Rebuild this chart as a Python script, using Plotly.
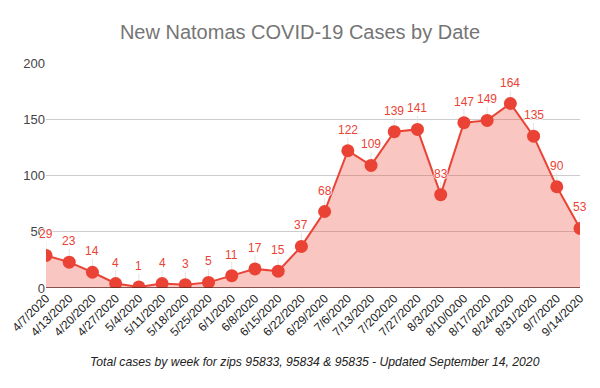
import plotly.graph_objects as go

dates = ["4/7/2020", "4/13/2020", "4/20/2020", "4/27/2020", "5/4/2020", "5/11/2020",
         "5/18/2020", "5/25/2020", "6/1/2020", "6/8/2020", "6/15/2020", "6/22/2020",
         "6/29/2020", "7/6/2020", "7/13/2020", "7/202020", "7/27/2020", "8/3/2020",
         "8/10/0200", "8/17/2020", "8/24/2020", "8/31/2020", "9/7/2020", "9/14/2020"]
cases = [29, 23, 14, 4, 1, 4, 3, 5, 11, 17, 15, 37, 68, 122, 109, 139, 141, 83,
         147, 149, 164, 135, 90, 53]
y_ticks = [0, 50, 100, 150, 200]

xs = list(range(len(dates)))
RED = "#ea4335"
FONT = "Liberation Sans, Arial, sans-serif"
HALO = "1px 0 1px white, -1px 0 1px white, 0 1px 1px white, 0 -1px 1px white"

W, H = 600, 388

fig = go.Figure()
# faint label stems
fig.add_trace(go.Scatter(
    x=xs, y=cases, mode="markers", marker=dict(size=1, opacity=0),
    error_y=dict(type="data", symmetric=False, array=[12] * len(xs),
                 arrayminus=[0] * len(xs), width=0, thickness=1,
                 color="rgba(225,225,225,0.9)"),
    hoverinfo="skip", showlegend=False,
))
fig.add_trace(go.Scatter(
    x=xs, y=cases, mode="lines+markers",
    line=dict(color=RED, width=2),
    marker=dict(color=RED, size=13),
    fill="tozeroy", fillcolor="rgba(234,67,53,0.3)",
    cliponaxis=True, hoverinfo="skip", showlegend=False,
))

for x, v in zip(xs, cases):
    fig.add_annotation(x=x, y=v, text=str(v), showarrow=False, yshift=21,
                       font=dict(color=RED, size=12, family=FONT, shadow=HALO))

fig.add_annotation(
    text="<i>Total cases by week for zips 95833, 95834 &amp; 95835 - Updated September 14, 2020</i>",
    xref="paper", yref="paper", x=(315 - 46) / 534, y=-(362 - 288) / 225,
    yanchor="middle", xanchor="center",
    showarrow=False, font=dict(size=12.2, color="#222222", family=FONT))

fig.update_layout(
    width=W, height=H,
    margin=dict(l=46, r=20, t=63, b=100, autoexpand=False),
    paper_bgcolor="white", plot_bgcolor="white",
    font=dict(family=FONT),
    title=dict(text="New Natomas COVID-19 Cases by Date", x=0.5, xanchor="center",
               xref="container", yref="container",
               y=1 - 32 / H, yanchor="middle", automargin=False,
               font=dict(size=20, color="#757575", family=FONT)),
    xaxis=dict(range=[0, 23], tickmode="array", tickvals=xs, ticktext=dates,
               tickangle=-45, showgrid=False, zeroline=False, showline=False,
               ticks="", automargin=False, tickfont=dict(size=12, color="#222222")),
    yaxis=dict(range=[0, 200], tickmode="array", tickvals=y_ticks,
               showgrid=True, gridcolor="#cccccc", gridwidth=1, automargin=False,
               zeroline=False, showline=False, ticks="", ticklen=0,
               tickfont=dict(size=13, color="#444444")),
)
fig.add_shape(type="line", xref="paper", yref="y", x0=0, x1=1, y0=0, y1=0,
              line=dict(color="#5f2a22", width=1.5), layer="above")

fig.write_html("out.html", post_script="document.body.style.margin='0';",
               config={"displayModeBar": False})
